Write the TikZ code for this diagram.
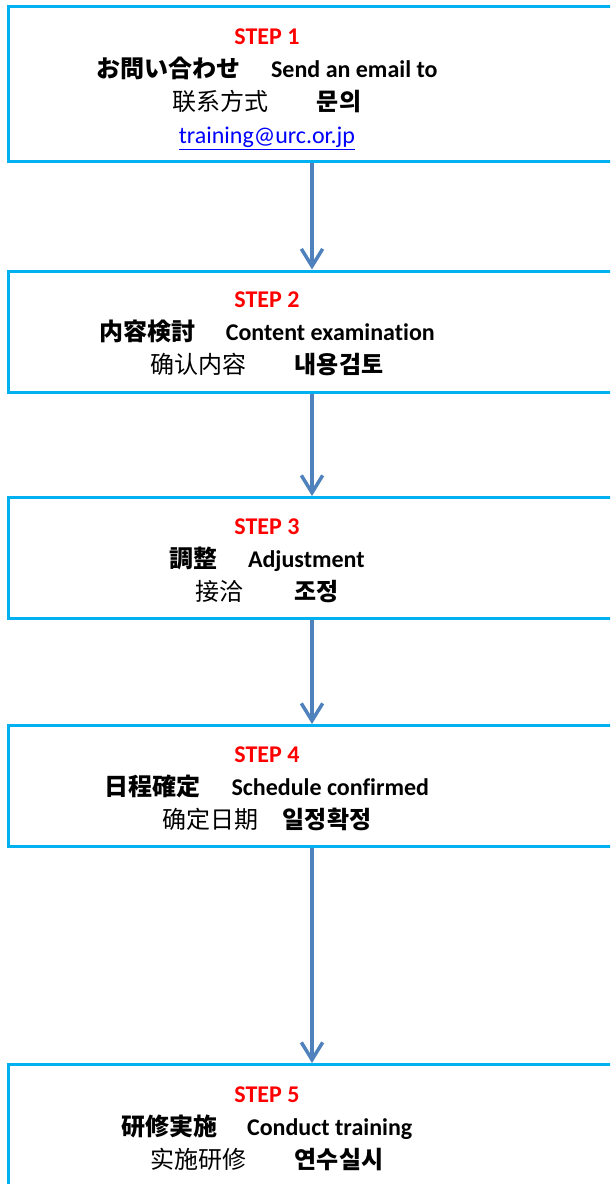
\documentclass[tikz,border=0pt]{standalone}
\usepackage{fontspec}
\usepackage{tikz}
\usepackage{xcolor}
\usetikzlibrary{arrows.meta}

\setmainfont{Carlito}[Ligatures=NoCommon]
\newfontfamily\jpfont{Noto Sans CJK JP}
\newfontfamily\scfont{Noto Sans CJK SC}
\newfontfamily\krfont{Noto Sans CJK KR}

\definecolor{boxcyan}{RGB}{0,176,240}
\definecolor{arrowblue}{RGB}{79,129,189}
\definecolor{stepred}{RGB}{255,0,0}
\definecolor{linkblue}{RGB}{0,0,255}

\tikzset{
    stepbox/.style={draw=boxcyan, line width=2.25pt, minimum width=456pt, minimum height=90.75pt, inner sep=0pt},
    steptext/.style={align=center, inner sep=0pt, font=\fontsize{18}{24.75}\selectfont},
    flowarrow/.style={draw=arrowblue, line width=2.6pt, -{Straight Barb[length=13pt,width=16pt,line width=2.6pt]}}
}

\newcommand{\steplabel}[1]{{\bfseries\color{stepred}STEP #1}}

\begin{document}
\begin{tikzpicture}[x=0.75pt,y=0.75pt,yscale=-1,xscale=1]
    \clip (0,0) rectangle (610,1184);
    \fill[white] (0,0) rectangle (610,1184);

    % Boxes
    \node[stepbox, minimum height=116pt] (s1) at (312,84) {};
    \node[stepbox] (s2) at (312,331.5) {};
    \node[stepbox] (s3) at (312,558) {};
    \node[stepbox] (s4) at (312,786) {};
    \node[stepbox] (s5) at (312,1125) {};

    % Text Node
    \node[steptext] (t1) at (267,89.5) {\steplabel{1}\\
        {\jpfont\bfseries お問い合わせ}\hspace{23pt}{\bfseries Send an email to}\\
        {\scfont 联系方式}\hspace{36pt}{\krfont\bfseries 문의}\\
        {\color{linkblue}\underline{training@urc.or.jp}}};
    % Text Node
    \node[steptext] (t2) at (267,334) {\steplabel{2}\\
        {\jpfont\bfseries 内容検討}\hspace{23pt}{\bfseries Content examination}\\
        {\scfont 确认内容}\hspace{36pt}{\krfont\bfseries 내용검토}};
    % Text Node
    \node[steptext] (t3) at (267,561) {\steplabel{3}\\
        {\jpfont\bfseries 調整}\hspace{23pt}{\bfseries Adjustment}\\
        {\scfont 接洽}\hspace{38pt}{\krfont\bfseries 조정}};
    % Text Node
    \node[steptext] (t4) at (267,788.5) {\steplabel{4}\\
        {\jpfont\bfseries 日程確定}\hspace{23pt}{\bfseries Schedule confirmed}\\
        {\scfont 确定日期}\hspace{18pt}{\krfont\bfseries 일정확정}};
    % Text Node
    \node[steptext] (t5) at (267,1128.5) {\steplabel{5}\\
        {\jpfont\bfseries 研修実施}\hspace{22pt}{\bfseries Conduct training}\\
        {\scfont 实施研修}\hspace{36pt}{\krfont\bfseries 연수실시}};

    % Connection
    \draw[flowarrow] (s1) -- (s2);
    \draw[flowarrow] (s2) -- (s3);
    \draw[flowarrow] (s3) -- (s4);
    \draw[flowarrow] (s4) -- (s5);

\end{tikzpicture}
\end{document}
